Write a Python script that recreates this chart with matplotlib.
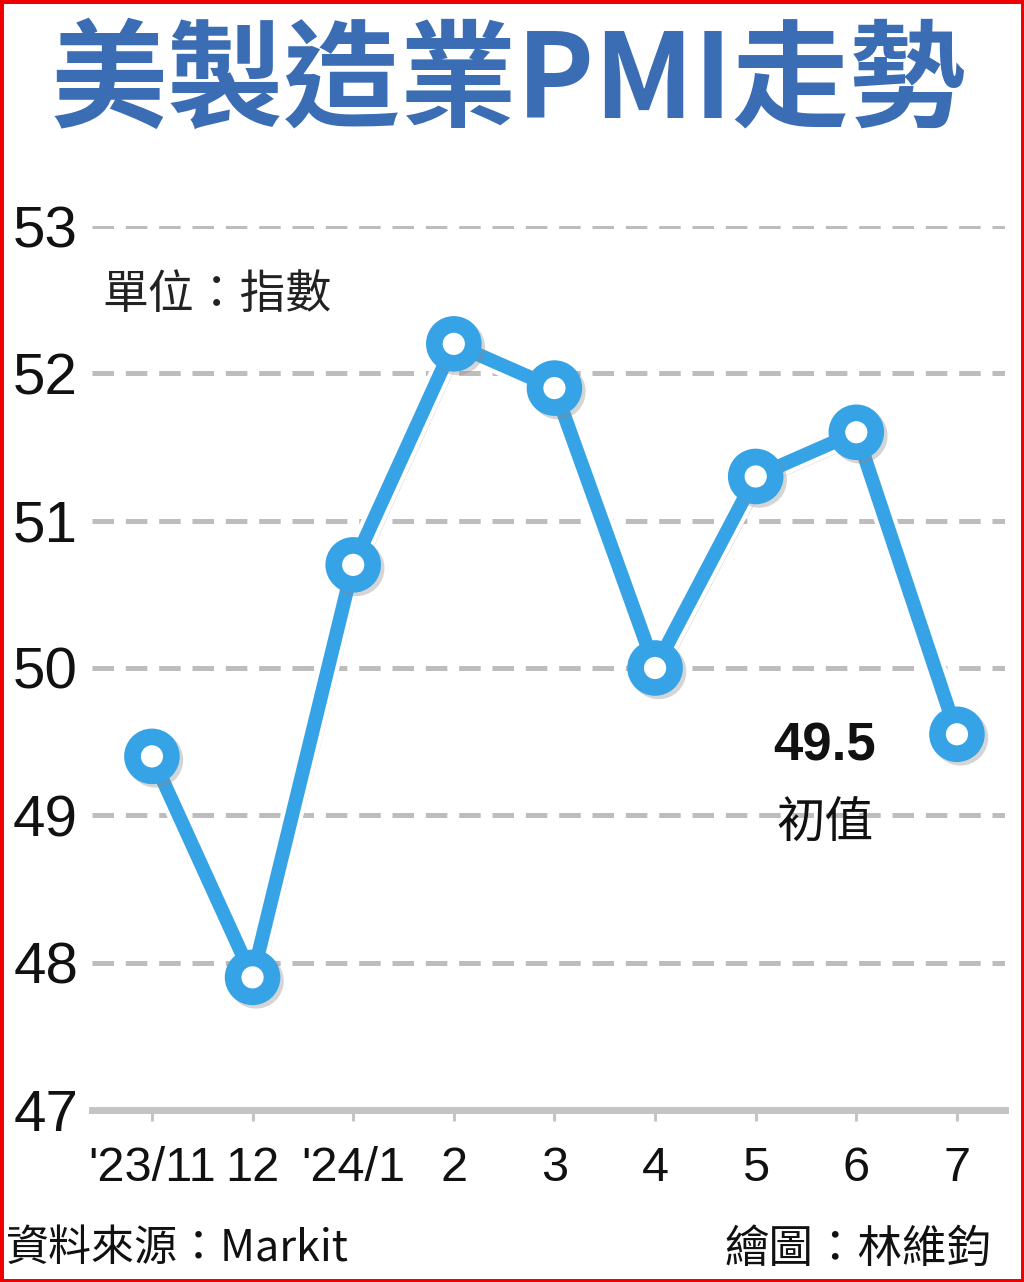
import matplotlib
matplotlib.use("Agg")
import matplotlib.pyplot as plt
import matplotlib.patheffects as pe
from matplotlib.patches import Rectangle

# data
months = ["'23/11", "12", "'24/1", "2", "3", "4", "5", "6", "7"]
pmi = [49.4, 47.9, 50.7, 52.2, 51.9, 50.0, 51.3, 51.6, 49.55]
yticks = [47, 48, 49, 50, 51, 52, 53]

cjk = ["Noto Sans CJK TC", "DejaVu Sans"]
blue = "#36a3e6"
plt.rcParams["lines.scale_dashes"] = False

fig = plt.figure(figsize=(10.24, 12.82), dpi=100)
ax = fig.add_axes([0.0898, 0.1342, 0.8916, 0.6895])

x = list(range(len(months)))
ax.set_xlim(-0.596, 8.477)
ax.set_ylim(47, 53)

# dashed grid
for v in yticks[1:]:
    ax.axhline(v, color="#bdbdbd", lw=3.6, dashes=(15.5, 8.5), zorder=1)

shadow = [pe.SimpleLineShadow(offset=(2.5, -2.5), shadow_color="#888888", alpha=0.35),
          pe.Stroke(linewidth=16, foreground="white"), pe.Normal()]
ax.plot(x, pmi, color=blue, lw=10, solid_capstyle="round", zorder=3,
        path_effects=shadow)
mshadow = [pe.SimpleLineShadow(offset=(2.5, -2.5), shadow_color="#888888", alpha=0.35),
           pe.Stroke(linewidth=4, foreground="white"), pe.Normal()]
ax.plot(x, pmi, ls="none", marker="o", ms=28, mew=12, mec=blue, mfc="white",
        zorder=4, path_effects=mshadow)

for s in ["left", "right", "top"]:
    ax.spines[s].set_visible(False)
ax.spines["bottom"].set_color("#c4c4c4")
ax.spines["bottom"].set_linewidth(5)
ax.spines["bottom"].set_zorder(2)

ax.set_yticks(yticks)
ax.set_yticklabels([str(v) for v in yticks], fontsize=42, family="Liberation Sans",
                   color="#111111")
ax.tick_params(axis="y", length=0, pad=10)
ax.set_xticks(x)
ax.set_xticklabels(months, fontsize=35, family="Liberation Sans", color="#111111")
ax.tick_params(axis="x", length=8, width=2.2, color="#c4c4c4", pad=18)

# last value note
ax.annotate("49.5", xy=(x[-1], pmi[-1]), xytext=(-95, -9), textcoords="offset points",
            ha="center", va="center", fontsize=38, fontweight="bold",
            family="Liberation Sans", color="#111111")
ax.annotate("初值", xy=(x[-1], pmi[-1]), xytext=(-95, -65), textcoords="offset points",
            ha="center", va="center", fontsize=35, family=cjk, color="#111111")

fig.text(0.496, 1 - 84 / 1282, "美製造業PMI走勢", ha="center", va="center",
         fontsize=84, fontweight="semibold", family=cjk, color="#3b6db5")
fig.text(0.10, 1 - 295 / 1282, "單位：指數", ha="left", va="center",
         fontsize=33, family=cjk, color="#222222")
fig.text(0.006, 1 - 1249 / 1282, "資料來源：Markit", ha="left", va="center",
         fontsize=31, family=cjk, color="#111111")
fig.text(0.968, 1 - 1249 / 1282, "繪圖：林維鈞", ha="right", va="center",
         fontsize=32, family=cjk, color="#111111")

fig.patches.append(Rectangle((0, 0), 1, 1, transform=fig.transFigure, fill=False,
                             edgecolor="#ee0000", lw=5, zorder=10))

fig.savefig("out.png", dpi=100)
